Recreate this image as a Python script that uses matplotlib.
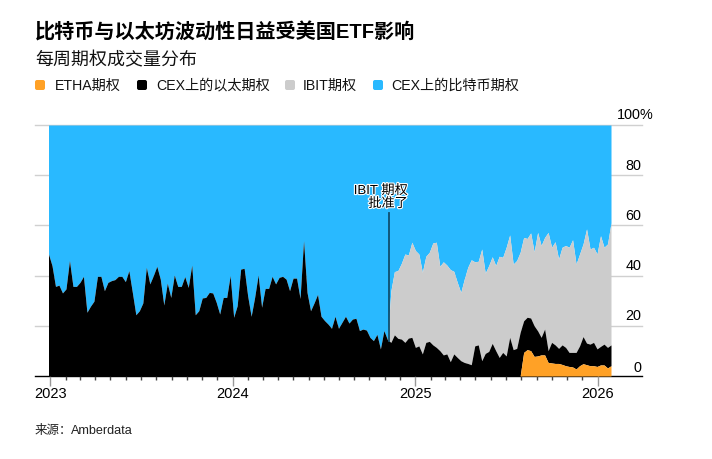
import numpy as np
import pandas as pd
import matplotlib
matplotlib.use("Agg")
import matplotlib.pyplot as plt
import matplotlib.dates as mdates
import matplotlib.patheffects as pe
from matplotlib.patches import FancyBboxPatch

plt.rcParams['font.family'] = ['Liberation Sans', 'Noto Sans CJK SC', 'DejaVu Sans']

# -------------------------------------------------------------
# Data, weekly stacked share in percent
# -------------------------------------------------------------
etha_top = [0.0] * 134 + [
    0, 0, 9.4, 10.5, 10.1, 7.8, 8, 8.4, 8.4, 5.4, 5.2, 5, 5, 4.6, 4.1, 3.8,
    3.6, 2.8, 4.1, 4.9, 4.5, 4.1, 4.1, 3.8, 4.4, 4.4, 3.2, 4.1,
]

cex_eth_top = [
    48.6, 44, 35.7, 36.2, 33.1, 34.7, 46, 35.7, 35.7, 37.3, 39.7, 25.4, 27.8, 29.8,
    39.7, 39.7, 34, 37.3, 38, 38.4, 39.7, 39.7, 37.6, 42, 33.3, 24.4, 26, 29.1,
    43.3, 36.7, 40, 43.7, 38.6, 28.3, 37, 31.3, 40.2, 35.7, 35.7, 39.6, 35.3, 44.2,
    24.4, 26, 31.1, 31.3, 33.3, 33.1, 29.4, 24.7, 31.3, 31.3, 40,
    23.4, 28, 42.6, 42.9, 32, 23.8, 31.3, 40.2, 27.4, 34.9, 34.9, 39.7, 36.7, 39.3,
    39.7, 38.6, 34, 39, 39, 30.9, 53.9, 33.3, 26, 29.1, 32.5, 23.8, 22.1, 20.7, 19,
    23.8, 19, 21.4, 23.8, 21.1, 22.7, 23, 18.1, 18.7, 18.3, 15.4, 14.1, 16.6, 10.8, 18.1,
    14.5, 13.4, 16.4, 15, 14.7, 13.4, 15.1, 15.4, 11.4, 12, 8.8, 13.4, 13.8, 12.4,
    11.4, 10.1, 8.4, 8.8, 5.7, 8.8, 7.4, 6.1, 5.4, 5, 4.5, 12, 12.4, 6.1, 9, 9.8,
    13, 10.1, 7.4, 9.4, 8, 15.4, 10.5,
    11, 17.4, 22, 23.4, 23.1, 20, 18, 15.4, 18.7, 10.1, 13.4, 12.4, 11, 12.4, 11.4,
    9.4, 9.4, 9.4, 12, 15.7, 13.1, 12.7, 13.4, 10.8, 11.8, 12.7, 11.4, 12.4,
]

ibit_from_launch = [
    14.5, 34, 41.6, 42, 44.9, 48.6, 48.2, 53.3, 50, 48.6, 41.3, 47.7, 49.3, 53, 53.3,
    43.7, 45.5, 44.2, 42.4, 41.7, 37.3, 33.3, 38.6, 43.3, 46.3, 45.5, 45.7, 50.6, 41,
    44, 47.5, 44, 47.7, 47.3, 51.3, 56.2, 44.6,
    46, 49.3, 55.2, 54.8, 57, 49.5, 57.2, 52, 55.2, 57.2, 51.3, 53.5, 46.6, 51.3, 52,
    51.3, 54.3, 44.6, 48.6, 52.6, 58.6, 50.6, 51.3, 48.6, 55.9, 51.3, 52.6, 61,
]

weeks = pd.date_range("2022-12-28", periods=len(cex_eth_top), freq="7D")

etha_top = np.array(etha_top)
cex_eth_top = np.array(cex_eth_top)
ibit_top = cex_eth_top.copy()
ibit_top[-len(ibit_from_launch):] = ibit_from_launch

year_labels = ["2023", "2024", "2025", "2026"]
y_ticks = [0, 20, 40, 60, 80, 100]
legend_names = ["ETHA期权", "CEX上的以太期权", "IBIT期权", "CEX上的比特币期权"]
colors = ["#FFA126", "#000000", "#CCCCCC", "#29B9FF"]
launch_date = pd.Timestamp("2024-11-09")

# -------------------------------------------------------------
# Figure
# -------------------------------------------------------------
W, H = 712, 460
fig = plt.figure(figsize=(W / 100, H / 100), dpi=100)
L, R, T, B = 48.5, 611, 126, 377
ax = fig.add_axes([L / W, 1 - B / H, (R - L) / W, (B - T) / H])
ax.set_xlim(weeks[0], weeks[-1])
ax.set_ylim(0, 100)
for s in ax.spines.values():
    s.set_visible(False)

# grid lines stick out on both sides of the areas
trans = ax.get_yaxis_transform()
x0, x1 = (35 - L) / (R - L), (642 - L) / (R - L)
for v in y_ticks:
    ax.plot([x0, x1], [v, v], transform=trans, clip_on=False, zorder=0,
            color="#000000" if v == 0 else "#D0D0D0", lw=1.0)

ax.fill_between(weeks, 0, etha_top, color=colors[0], lw=0, zorder=4)
ax.fill_between(weeks, etha_top, cex_eth_top, color=colors[1], lw=0, zorder=3)
ax.fill_between(weeks, cex_eth_top, ibit_top, color=colors[2], lw=0, zorder=2)
ax.fill_between(weeks, ibit_top, 100, color=colors[3], lw=0, zorder=1)

# y labels sit above their lines, digits right aligned
x_lab = (641 - L) / (R - L)
for v in y_ticks:
    ax.text(x_lab, v + 1.4 if v else 0.8, str(v), transform=trans,
            ha="right", va="bottom", fontsize=10.4, color="#000000")
ax.text((640 - L) / (R - L), 101.4, "%", transform=trans, ha="left", va="bottom",
        fontsize=10.4, color="#000000")

# x axis
ax.xaxis.set_minor_locator(mdates.MonthLocator())
ax.tick_params(axis="x", which="major", length=7, width=1, color="#999999", pad=0.5,
               labelsize=10.5, labelcolor="#000000")
ax.tick_params(axis="x", which="minor", length=3, width=1, color="#444444")
ax.tick_params(axis="y", left=False, labelleft=False)
ax.set_xticks(pd.to_datetime([y + "-01-01" for y in year_labels]))
ax.set_xticklabels(year_labels)

# annotation
ax.plot([launch_date, launch_date], [14, 65], color="#0F4E6E", lw=1.3, zorder=5)
halo = [pe.withStroke(linewidth=1.6, foreground="white")]
fig.text(408 / W, 1 - 192 / H, "IBIT 期权", ha="right", va="center", fontsize=9.5,
         color="black", path_effects=halo, zorder=6)
fig.text(408 / W, 1 - 205 / H, "批准了", ha="right", va="center", fontsize=9.5,
         color="black", path_effects=halo, zorder=6)

# header
fig.text(35 / W, 1 - 32 / H, "比特币与以太坊波动性日益受美国ETF影响", fontsize=14.5,
         fontweight="bold", va="center", ha="left", color="black")
fig.text(35 / W, 1 - 60.5 / H, "每周期权成交量分布", fontsize=12.95, va="center", ha="left",
         color="#111111")

# legend by hand, swatches and labels placed like the original
swatch_x = [35, 137, 285, 373]
label_x = [55, 156, 303, 391]
for name, c, sx, lx in zip(legend_names, colors, swatch_x, label_x):
    fig.add_artist(FancyBboxPatch((sx + 1, H - 90), 8, 8, boxstyle="round,pad=1,rounding_size=2",
                                  transform=None, fc=c, ec="none"))
    fig.text(lx / W, 1 - 85.5 / H, name, fontsize=10.2, va="center", ha="left", color="#111111")

fig.text(35 / W, 1 - 431 / H, "来源：", fontsize=9, va="center", ha="left", color="#222222")
fig.text(71 / W, 1 - 431 / H, "Amberdata", fontsize=9.1, va="center", ha="left", color="#222222")

fig.savefig("out.png", dpi=100)
